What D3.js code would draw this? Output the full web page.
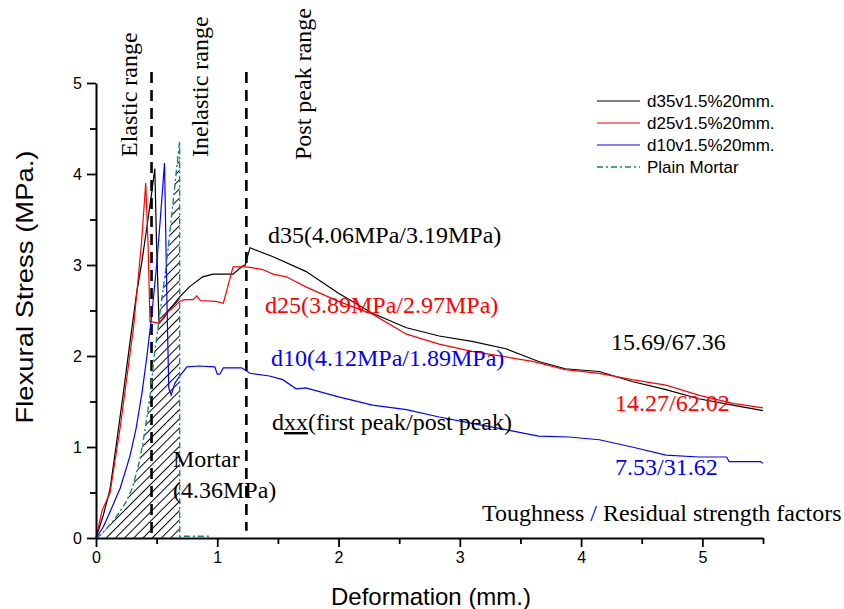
<!DOCTYPE html>
<html>
<head>
<meta charset="utf-8">
<script src="https://cdn.jsdelivr.net/npm/d3@7"></script>
<style>
  body { margin: 0; background: #fff; }
  svg { display: block; }
  .tick text { font-family: "Liberation Sans", Arial, sans-serif; font-size: 16px; }
</style>
</head>
<body>
<div id="chart-area"></div>
<script>
// deformation (mm) / flexural stress (MPa)
var d35X = [0, 0.06, 0.115, 0.17, 0.225, 0.28, 0.335, 0.38, 0.42, 0.46, 0.485, 0.5, 0.52, 0.56, 0.6, 0.69, 0.77, 0.88, 0.965, 1.13, 1.2, 1.23, 1.27, 1.46, 1.73, 2.0, 2.28, 2.56, 2.83, 3.1, 3.38, 3.65, 3.87, 4.15, 4.42, 4.7, 4.97, 5.25, 5.5];
var d35Y = [0, 0.25, 0.53, 1.05, 1.59, 2.15, 2.69, 3.05, 3.42, 3.8, 4.06, 3.2, 2.36, 2.42, 2.5, 2.65, 2.76, 2.87, 2.9, 2.9, 2.98, 3.0, 3.19, 3.09, 2.93, 2.69, 2.47, 2.31, 2.22, 2.16, 2.08, 1.94, 1.86, 1.83, 1.72, 1.63, 1.53, 1.46, 1.40];

var d25X = [0, 0.05, 0.1, 0.115, 0.2, 0.31, 0.375, 0.41, 0.43, 0.445, 0.52, 0.58, 0.65, 0.69, 0.73, 0.8, 0.83, 0.86, 0.99, 1.05, 1.13, 1.24, 1.375, 1.46, 1.57, 1.73, 2.0, 2.28, 2.56, 2.83, 3.1, 3.38, 3.6, 3.87, 4.15, 4.42, 4.7, 4.97, 5.25, 5.5];
var d25Y = [0, 0.3, 0.45, 0.49, 1.22, 2.32, 3.24, 3.9, 3.2, 2.38, 2.36, 2.47, 2.55, 2.6, 2.62, 2.62, 2.66, 2.61, 2.6, 2.58, 2.98, 2.98, 2.95, 2.9, 2.87, 2.76, 2.6, 2.46, 2.24, 2.13, 2.05, 1.99, 1.94, 1.85, 1.81, 1.74, 1.68, 1.57, 1.48, 1.43];

var d10X = [0, 0.06, 0.12, 0.2, 0.28, 0.33, 0.38, 0.42, 0.46, 0.5, 0.53, 0.565, 0.585, 0.6, 0.62, 0.65, 0.69, 0.75, 0.85, 0.98, 1.0, 1.02, 1.05, 1.2, 1.27, 1.43, 1.54, 1.65, 1.73, 2.0, 2.28, 2.56, 2.83, 3.1, 3.38, 3.65, 3.9, 4.15, 4.42, 4.7, 4.97, 5.2, 5.22, 5.48, 5.5];
var d10Y = [0, 0.12, 0.3, 0.55, 0.9, 1.2, 1.6, 2.0, 2.45, 3.0, 3.5, 4.12, 2.6, 1.65, 1.57, 1.7, 1.78, 1.88, 1.89, 1.88, 1.8, 1.8, 1.87, 1.87, 1.81, 1.78, 1.74, 1.64, 1.65, 1.55, 1.46, 1.41, 1.33, 1.26, 1.19, 1.12, 1.11, 1.08, 1.0, 0.91, 0.89, 0.89, 0.84, 0.84, 0.82];

var mortarX = [0, 0.05, 0.15, 0.25, 0.3, 0.36, 0.4, 0.45, 0.48, 0.53, 0.58, 0.62, 0.66, 0.69, 0.69, 0.93];
var mortarY = [0, 0.05, 0.2, 0.4, 0.55, 0.85, 1.15, 1.6, 2.0, 2.5, 3.0, 3.5, 4.0, 4.36, 0.02, 0.02];

var seriesNames = ["d35v1.5%20mm.", "d25v1.5%20mm.", "d10v1.5%20mm.", "Plain Mortar"];
var seriesColors = ["#000000", "#ff0000", "#0000ff", "#138484"];

var xTicks = [0, 1, 2, 3, 4, 5];
var yTicks = [0, 1, 2, 3, 4, 5];
var rangeLines = [0.458, 1.24];

var W = 844, H = 609;

var svg = d3.select("#chart-area").append("svg")
    .attr("width", W)
    .attr("height", H);

var x = d3.scaleLinear().domain([0, 5.5]).range([96, 763]);
var y = d3.scaleLinear().domain([0, 5]).range([538, 83]);

var defs = svg.append("defs");
defs.append("pattern")
    .attr("id", "hatch")
    .attr("patternUnits", "userSpaceOnUse")
    .attr("width", 6.5).attr("height", 6.5)
    .attr("patternTransform", "rotate(45)")
  .append("line")
    .attr("x1", 0.5).attr("y1", 0).attr("x2", 0.5).attr("y2", 6.5)
    .attr("stroke", "#000").attr("stroke-width", 1);

function pts(xs, ys) {
    return xs.map((d, i) => [d, ys[i]]);
}

var line = d3.line()
    .x((d) => x(d[0]))
    .y((d) => y(d[1]));

// hatched mortar area (rising part of the mortar curve closed down to the axis)
var mortarPts = pts(mortarX, mortarY);
var areaPts = mortarPts.slice(0, 14).concat([[mortarX[13], 0]]);
svg.append("path")
    .attr("d", line(areaPts) + "Z")
    .attr("fill", "url(#hatch)")
    .attr("stroke", "none");

// dashed range separators
svg.selectAll(".range-line")
    .data(rangeLines)
    .enter().append("line")
        .attr("class", "range-line")
        .attr("x1", (d) => x(d)).attr("x2", (d) => x(d))
        .attr("y1", y(5.12))
        .attr("y2", (d, i) => y(i == 0 ? 0 : 0.08))
        .attr("stroke", "#000")
        .attr("stroke-width", 2.6)
        .attr("stroke-dasharray", "11,7");

// curves
var curves = [pts(d35X, d35Y), pts(d25X, d25Y), pts(d10X, d10Y)];
svg.selectAll(".curve")
    .data(curves)
    .enter().append("path")
        .attr("class", "curve")
        .attr("d", line)
        .attr("fill", "none")
        .attr("stroke", (d, i) => seriesColors[i])
        .attr("stroke-width", 1.2);

svg.append("path")
    .attr("d", line(mortarPts))
    .attr("fill", "none")
    .attr("stroke", seriesColors[3])
    .attr("stroke-width", 1.4)
    .attr("stroke-dasharray", "6,3,2,3");

// axes
var xAxis = svg.append("g")
    .attr("transform", "translate(0," + y(0) + ")")
    .call(d3.axisBottom(x).tickValues(xTicks).tickSize(9).tickSizeOuter(0).tickPadding(5).tickFormat(d3.format("d")));
var xMinor = svg.append("g")
    .attr("transform", "translate(0," + y(0) + ")")
    .call(d3.axisBottom(x).tickValues([0.5, 1.5, 2.5, 3.5, 4.5, 5.5]).tickSize(6).tickSizeOuter(0).tickFormat(""));
var yAxis = svg.append("g")
    .attr("transform", "translate(" + x(0) + ",0)")
    .call(d3.axisLeft(y).tickValues(yTicks).tickSize(9).tickSizeOuter(0).tickPadding(5).tickFormat(d3.format("d")));
var yMinor = svg.append("g")
    .attr("transform", "translate(" + x(0) + ",0)")
    .call(d3.axisLeft(y).tickValues([0.5, 1.5, 2.5, 3.5, 4.5]).tickSize(6).tickSizeOuter(0).tickFormat(""));

[xAxis, xMinor, yAxis, yMinor].forEach((g) => {
    g.select(".domain").attr("stroke-width", 2);
    g.selectAll(".tick line").attr("stroke-width", 1.8);
});
xMinor.select(".domain").remove();
yMinor.select(".domain").remove();

// axis titles
svg.append("text")
    .attr("x", 431).attr("y", 605)
    .attr("text-anchor", "middle")
    .style("font-family", "'Liberation Sans', Arial, sans-serif")
    .style("font-size", "24px")
    .text("Deformation (mm.)");

svg.append("text")
    .attr("transform", "translate(33,287) rotate(-90)")
    .attr("text-anchor", "middle")
    .attr("textLength", 273)
    .attr("lengthAdjust", "spacingAndGlyphs")
    .style("font-family", "'Liberation Sans', Arial, sans-serif")
    .style("font-size", "24px")
    .text("Flexural Stress (MPa.)");

// legend
var legend = svg.append("g").attr("transform", "translate(597,101)");
var rows = legend.selectAll("g")
    .data(seriesNames)
    .enter().append("g")
        .attr("transform", (d, i) => "translate(0," + (i * 22) + ")");
rows.append("line")
    .attr("x1", 0).attr("x2", 43).attr("y1", 0).attr("y2", 0)
    .attr("stroke", (d, i) => seriesColors[i])
    .attr("stroke-width", (d, i) => i == 3 ? 1.4 : 1.2)
    .attr("stroke-dasharray", (d, i) => i == 3 ? "6,3,2,3" : null);
rows.append("text")
    .attr("x", 50).attr("y", 6)
    .style("font-family", "'Liberation Sans', Arial, sans-serif")
    .style("font-size", "17px")
    .text((d) => d);

// rotated range labels
var rangeLabels = [
    {t: "Elastic range", x: 137, y: 157},
    {t: "Inelastic range", x: 208, y: 157},
    {t: "Post peak range", x: 311, y: 160}
];
svg.selectAll(".range-label")
    .data(rangeLabels)
    .enter().append("text")
        .attr("class", "range-label")
        .attr("transform", (d) => "translate(" + d.x + "," + d.y + ") rotate(-90)")
        .style("font-family", "'Liberation Serif', 'Times New Roman', serif")
        .style("font-size", "24px")
        .text((d) => d.t);

// annotations
var notes = [
    {t: "d35(4.06MPa/3.19MPa)", x: 268, y: 243, c: "#000"},
    {t: "d25(3.89MPa/2.97MPa)", x: 265, y: 313, c: "#ff0000"},
    {t: "d10(4.12MPa/1.89MPa)", x: 271, y: 366, c: "#0000ff"},
    {t: "15.69/67.36", x: 611, y: 350, c: "#000"},
    {t: "14.27/62.02", x: 615, y: 411, c: "#ff0000"},
    {t: "7.53/31.62", x: 615, y: 475, c: "#0000ff"},
    {t: "Mortar", x: 173, y: 467, c: "#000"},
    {t: "(4.36MPa)", x: 173, y: 498, c: "#000"}
];
svg.selectAll(".note")
    .data(notes)
    .enter().append("text")
        .attr("class", "note")
        .attr("x", (d) => d.x).attr("y", (d) => d.y)
        .attr("fill", (d) => d.c)
        .style("font-family", "'Liberation Serif', 'Times New Roman', serif")
        .style("font-size", "24px")
        .text((d) => d.t);

var dxx = svg.append("text")
    .attr("x", 272).attr("y", 430)
    .style("font-family", "'Liberation Serif', 'Times New Roman', serif")
    .style("font-size", "24px");
dxx.append("tspan").text("d");
dxx.append("tspan").style("text-decoration", "underline").text("xx");
dxx.append("tspan").text("(first peak/post peak)");

var tough = svg.append("text")
    .attr("x", 482).attr("y", 521)
    .style("font-family", "'Liberation Serif', 'Times New Roman', serif")
    .style("font-size", "24px");
tough.append("tspan").text("Toughness ");
tough.append("tspan").attr("fill", "#0000ff").text("/");
tough.append("tspan").text(" Residual strength factors");
</script>
</body>
</html>
